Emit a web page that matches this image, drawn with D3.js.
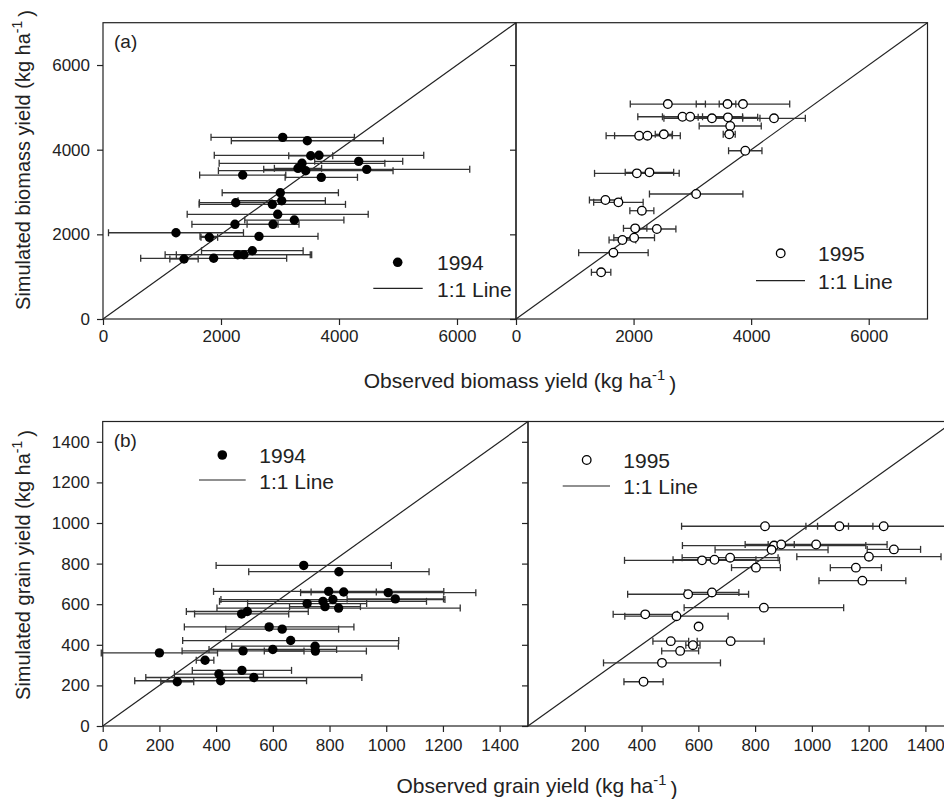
<!DOCTYPE html>
<html><head><meta charset="utf-8">
<script src="https://cdn.jsdelivr.net/npm/d3@7"></script>
<style>body{margin:0;background:#fff}svg{display:block}text{font-family:"Liberation Sans",Arial,sans-serif;fill:#222}</style>
</head><body><svg id="c" width="944" height="799"></svg>
<script>
// ---- data (kg/ha) ----
const bio94Obs=[3046,3463,3521,3661,4334,3373,3305,3436,4470,2368,3700,3005,2249,2870,3029,2961,3243,2237,2882,1237,1802,2644,2531,2283,2390,1373,1876];
const bio94Sim=[4292,4211,3857,3867,3725,3678,3560,3503,3536,3401,3347,2983,2747,2709,2794,2473,2338,2237,2237,2038,1930,1953,1613,1519,1519,1417,1434];
const bio94Err=[1215,1288,373,1775,746,1404,400,1480,1746,730,613,985,615,1240,740,1534,840,730,440,1144,141,1000,861,1230,1147,240,1237];
const bio95Obs=[2583,3598,3861,2832,2963,3333,3605,4389,3644,3627,2095,2236,2515,3900,2056,2270,3065,1521,1742,2141,2027,2396,1810,2010,1657,1448];
const bio95Sim=[5078,5078,5078,4778,4778,4741,4764,4741,4559,4363,4330,4330,4363,3975,3441,3465,2953,2811,2756,2558,2142,2126,1866,1920,1566,1103];
const bio95Err=[639,141,795,341,891,817,506,533,528,102,562,559,146,284,720,412,795,272,421,204,199,324,227,346,591,165];
const grain94Obs=[709,833,797,850,1007,1032,812,777,721,784,832,490,510,587,633,663,200,495,600,749,750,361,491,410,533,263,416];
const grain94Sim=[791,760,663,660,657,626,623,614,603,588,581,552,564,488,477,421,360,370,377,393,369,324,274,256,239,218,223];
const grain94Err=[309,318,406,115,309,170,395,365,210,125,429,166,215,299,199,381,205,215,225,294,180,31,175,157,381,58,303];
const grain95Obs=[835,1097,1253,867,892,1015,858,1289,613,657,712,1201,803,1155,1178,564,648,831,413,523,601,503,714,581,536,472,407];
const grain95Sim=[984,984,984,889,894,894,868,870,816,819,829,834,780,780,716,649,658,583,550,541,490,418,418,398,370,311,218];
const grain95Err=[294,118,233,323,46,250,199,94,273,146,169,254,86,90,153,213,95,281,113,182,10,63,118,25,65,206,69];
const bioTicks=[0,2000,4000,6000];
const grainTicks=[0,200,400,600,800,1000,1200,1400];
const grainTicksR=[200,400,600,800,1000,1200,1400];

const svg=d3.select("#c");
const ink="#222";

function panel(o){
  const g=svg.append("g");
  const x=o.x, y=o.y;
  // frame
  g.append("rect").attr("x",x.range()[0]).attr("y",y.range()[1])
    .attr("width",x.range()[1]-x.range()[0]).attr("height",y.range()[0]-y.range()[1])
    .attr("fill","none").attr("stroke",ink).attr("stroke-width",1.2);
  // 1:1 line
  const m=x.domain()[1];
  g.append("line").attr("x1",x(0)).attr("y1",y(0)).attr("x2",x(m)).attr("y2",y(m))
    .attr("stroke",ink).attr("stroke-width",1.2);
  // axes
  const ax=d3.axisBottom(x).tickValues(o.xt).tickSize(6).tickSizeOuter(0).tickPadding(o.xpad).tickFormat(d3.format("d"));
  const ga=g.append("g").attr("transform",`translate(0,${y.range()[0]})`).call(ax);
  ga.select(".domain").remove();
  ga.selectAll("line").attr("stroke",ink).attr("stroke-width",1.2);
  ga.selectAll("text").attr("font-size",o.fs).attr("fill",ink);
  const ay=d3.axisLeft(y).tickValues(o.yt).tickSize(6).tickSizeOuter(0).tickPadding(7)
    .tickFormat(o.ylab?d3.format("d"):"");
  const gy=g.append("g").attr("transform",`translate(${x.range()[0]},0)`).call(ay);
  gy.select(".domain").remove();
  gy.selectAll("line").attr("stroke",ink).attr("stroke-width",1.2);
  gy.selectAll("text").attr("font-size",o.fs).attr("fill",ink);
  // data
  const d=o.obs.map((v,i)=>({x:v,y:o.sim[i],e:o.err[i]}));
  const eb=g.append("g").attr("stroke","#333").attr("stroke-width",1.3);
  d.forEach(p=>{
    const x1=x(p.x-p.e),x2=x(p.x+p.e),yy=y(p.y);
    eb.append("line").attr("x1",x1).attr("x2",x2).attr("y1",yy).attr("y2",yy);
    eb.append("line").attr("x1",x1).attr("x2",x1).attr("y1",yy-3.5).attr("y2",yy+3.5);
    eb.append("line").attr("x1",x2).attr("x2",x2).attr("y1",yy-3.5).attr("y2",yy+3.5);
  });
  g.selectAll("circle.pt").data(d).join("circle").attr("class","pt")
    .attr("cx",p=>x(p.x)).attr("cy",p=>y(p.y))
    .attr("r",o.filled?4.7:4.3)
    .attr("fill",o.filled?"#000":"#fff").attr("stroke","#000").attr("stroke-width",o.filled?0:1.3);
  // legend
  const L=o.leg;
  g.append("circle").attr("cx",L.mx).attr("cy",L.my).attr("r",o.filled?4.8:4.3)
    .attr("fill",o.filled?"#000":"#fff").attr("stroke","#000").attr("stroke-width",o.filled?0:1.3);
  g.append("text").attr("x",L.tx).attr("y",L.ty1).attr("font-size",21).text(o.year);
  g.append("line").attr("x1",L.lx1).attr("x2",L.lx2).attr("y1",L.ly).attr("y2",L.ly).attr("stroke",ink).attr("stroke-width",1.2);
  g.append("text").attr("x",L.tx).attr("y",L.ty2).attr("font-size",21).text("1:1 Line");
  if(o.tag) g.append("text").attr("x",x.range()[0]+11).attr("y",y.range()[1]+25).attr("font-size",19).text(o.tag);
}

const yA=d3.scaleLinear([0,7000],[319,22.7]);
const yB=d3.scaleLinear([0,1500],[726,421.5]);
panel({x:d3.scaleLinear([0,7000],[103,516]),y:yA,xt:bioTicks,yt:bioTicks,ylab:true,xpad:5,fs:17,
  obs:bio94Obs,sim:bio94Sim,err:bio94Err,filled:true,year:"1994",tag:"(a)",
  leg:{mx:397.7,my:262.3,tx:437,ty1:270,ty2:296.5,lx1:373.3,lx2:422.7,ly:288.3}});
panel({x:d3.scaleLinear([0,7000],[516,927.5]),y:yA,xt:bioTicks,yt:bioTicks,ylab:false,xpad:5,fs:17,
  obs:bio95Obs,sim:bio95Sim,err:bio95Err,filled:false,year:"1995",
  leg:{mx:780.7,my:253.3,tx:818,ty1:261,ty2:288.5,lx1:756,lx2:805,ly:280.7}});
panel({x:d3.scaleLinear([0,1500],[102.7,528]),y:yB,xt:grainTicks,yt:grainTicks,ylab:true,xpad:7,fs:17,
  obs:grain94Obs,sim:grain94Sim,err:grain94Err,filled:true,year:"1994",tag:"(b)",
  leg:{mx:222.3,my:455,tx:259.3,ty1:462.5,ty2:488.5,lx1:199,lx2:245.7,ly:480}});
panel({x:d3.scaleLinear([0,1500],[528,953.8]),y:yB,xt:grainTicksR,yt:grainTicks,ylab:false,xpad:7,fs:17,
  obs:grain95Obs,sim:grain95Sim,err:grain95Err,filled:false,year:"1995",
  leg:{mx:586.7,my:460,tx:623.3,ty1:467.5,ty2:493.5,lx1:562.7,lx2:610,ly:486}});

function title(txt,x,y,rot,fs){
  const t=svg.append("text").attr("font-size",fs).attr("text-anchor","middle")
    .attr("transform",`translate(${x},${y}) rotate(${rot})`);
  t.append("tspan").text(txt+" (kg ha");
  t.append("tspan").attr("dy","-0.55em").attr("font-size",fs*0.7).text("-1");
  t.append("tspan").attr("dy","0.55em").text("\u2009)");
}
title("Observed biomass yield",520,388,0,21);
title("Observed grain yield",537,793,0,21);
title("Simulated biomass yield",30,160,-90,20);
title("Simulated grain yield",30,565,-90,20);
</script></body></html>
